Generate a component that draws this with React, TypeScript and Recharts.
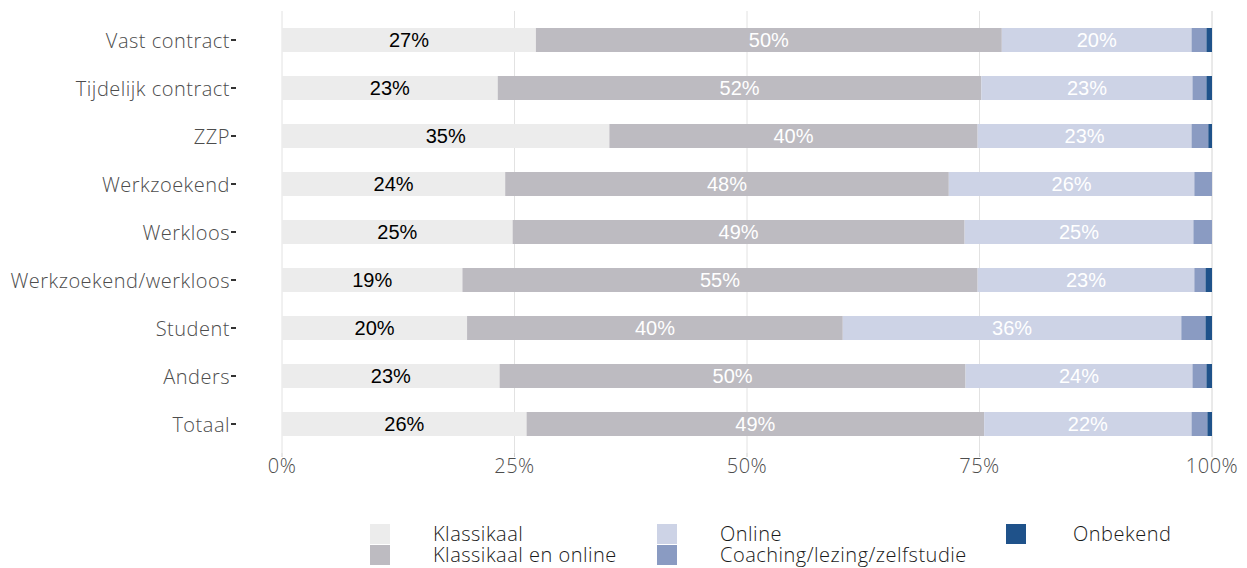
import {
  BarChart,
  Bar,
  XAxis,
  YAxis,
  CartesianGrid,
  LabelList
} from 'recharts'

const categories = [
  'Vast contract',
  'Tijdelijk contract',
  'ZZP',
  'Werkzoekend',
  'Werkloos',
  'Werkzoekend/werkloos',
  'Student',
  'Anders',
  'Totaal'
]

const klassikaal = [27.3, 23.2, 35.2, 24.0, 24.8, 19.4, 19.9, 23.4, 26.3]
const klassikaalOnline = [50.1, 52.0, 39.6, 47.7, 48.6, 55.4, 40.4, 50.1, 49.2]
const online = [20.4, 22.7, 23.0, 26.4, 24.6, 23.3, 36.4, 24.4, 22.3]
const coaching = [1.6, 1.5, 1.8, 1.9, 2.0, 1.2, 2.6, 1.5, 1.7]
const onbekend = [0.6, 0.6, 0.4, 0, 0, 0.7, 0.7, 0.6, 0.5]

const xTicks = [0, 25, 50, 75, 100]

const SERIES = [
  { key: 'klassikaal', name: 'Klassikaal', color: '#ececec', label: '#000000' },
  { key: 'klassikaalOnline', name: 'Klassikaal en online', color: '#bdbbc1', label: '#ffffff' },
  { key: 'online', name: 'Online', color: '#cdd3e6', label: '#ffffff' },
  { key: 'coaching', name: 'Coaching/lezing/zelfstudie', color: '#8a9bc2', label: null },
  { key: 'onbekend', name: 'Onbekend', color: '#1f528a', label: null }
]

const data = categories.map((name, i) => ({
  name,
  klassikaal: klassikaal[i],
  klassikaalOnline: klassikaalOnline[i],
  online: online[i],
  coaching: coaching[i],
  onbekend: onbekend[i]
}))

const AXIS_FONT = '"Open Sans", Lato, sans-serif'

function CategoryTick({ x, y, payload }: any) {
  return (
    <g>
      <text
        x={x - 52}
        y={y}
        textAnchor="end"
        dominantBaseline="central"
        fontFamily={AXIS_FONT}
        fontWeight={300}
        fontSize={20}
        letterSpacing={0.5}
        fill="#4d4d4d"
      >
        {payload.value}
      </text>
      <line x1={x - 51} x2={x - 46} y1={y} y2={y} stroke="#333" strokeWidth={2} />
    </g>
  )
}

// legend cells: [column, row]
const legendPos = [
  [0, 0],
  [0, 1],
  [1, 0],
  [1, 1],
  [2, 0]
]
const legendSquareX = [362, 649, 998]
const legendTextX = [425, 712, 1065]

function ChartLegend() {
  return (
    <>
      {SERIES.map((s, i) => {
        const [col, row] = legendPos[i]
        const top = 516 + row * 21
        return (
          <div key={s.key}>
            <div
              style={{
                position: 'absolute',
                left: legendSquareX[col],
                top,
                width: 20,
                height: 20,
                background: s.color
              }}
            />
            <div
              style={{
                position: 'absolute',
                left: legendTextX[col],
                top,
                fontFamily: AXIS_FONT,
                fontWeight: 300,
                fontSize: 20,
                letterSpacing: 0.5,
                color: '#1a1a1a',
                lineHeight: '20px',
                whiteSpace: 'nowrap'
              }}
            >
              {s.name}
            </div>
          </div>
        )
      })}
    </>
  )
}

export default function App() {
  return (
    <div style={{ position: 'relative', width: 1239, height: 560 }}>
      <BarChart
        width={1239}
        height={500}
        data={data}
        layout="vertical"
        margin={{ top: 3, right: 35, left: 0, bottom: 15 }}
        barSize={24}
      >
        <CartesianGrid horizontal={false} stroke="#e2e2e2" />
        <XAxis
          type="number"
          domain={[0, 100]}
          ticks={xTicks}
          tickFormatter={(v) => `${v}%`}
          axisLine={false}
          tickLine={{ stroke: '#d0d0d0' }}
          tickSize={4}
          tickMargin={2}
          height={40}
          tick={{ fontFamily: AXIS_FONT, fontWeight: 300, fontSize: 20, letterSpacing: 0.5, fill: '#4d4d4d' }}
        />
        <YAxis
          type="category"
          dataKey="name"
          width={274}
          axisLine={false}
          tickLine={false}
          tickSize={0}
          tickMargin={0}
          padding={{ top: 5, bottom: 5 }}
          tick={<CategoryTick />}
          interval={0}
        />
        {SERIES.map((s) => (
          <Bar
            key={s.key}
            dataKey={s.key}
            name={s.name}
            stackId="a"
            fill={s.color}
            isAnimationActive={false}
          >
            {s.label && (
              <LabelList
                dataKey={s.key}
                position="center"
                formatter={(v: any) => `${Math.round(Number(v))}%`}
                fill={s.label}
                fontSize={20}
                fontFamily='"Liberation Sans", Arial, sans-serif'
              />
            )}
          </Bar>
        ))}
      </BarChart>
      <ChartLegend />
    </div>
  )
}
